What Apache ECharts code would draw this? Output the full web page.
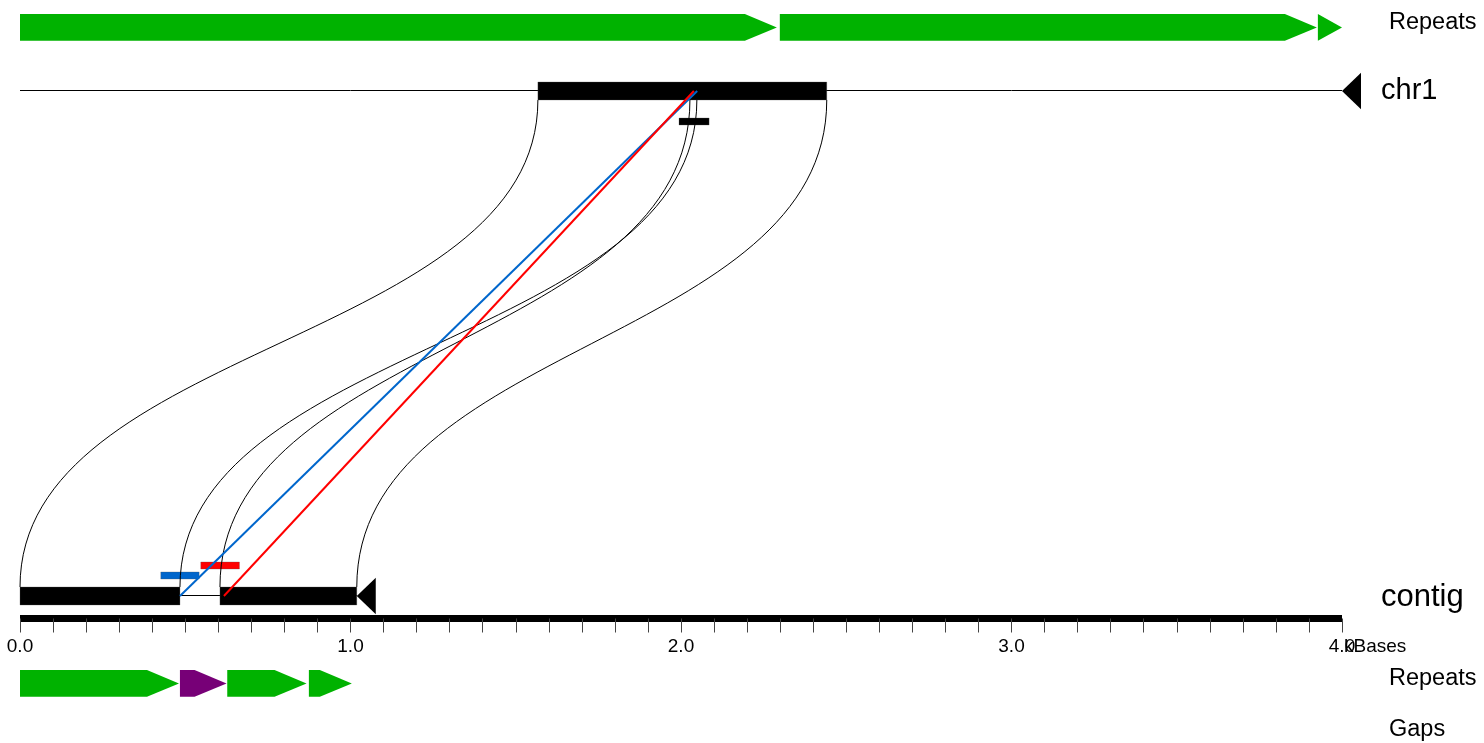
<!DOCTYPE html>
<html><head><meta charset="utf-8">
<script src="https://cdn.jsdelivr.net/npm/echarts@6/dist/echarts.min.js"></script>
<style>html,body{margin:0;padding:0;background:#fff}#c{width:1484px;height:743px}</style>
</head><body><div id="c"></div>
<script>
// ---- data (positions in kBases) ----
const tickLabels = ['0.0', '1.0', '2.0', '3.0', '4.0'];
const trackNames = ['Repeats', 'chr1', 'contig', 'Repeats', 'Gaps'];
const chr1Length = 4.0;
const contigLength = 1.019;
const chr1BlockStarts = [1.567];
const chr1BlockEnds = [2.441];
const contigBlockStarts = [0.0, 0.605];
const contigBlockEnds = [0.484, 1.019];
const topRepeatStarts = [0.0, 2.299, 3.927];
const topRepeatEnds = [2.290, 3.924, 4.0];
const topRepeatKinds = [0, 0, 0];
const bottomRepeatStarts = [0.0, 0.484, 0.627, 0.874];
const bottomRepeatEnds = [0.481, 0.625, 0.867, 1.004];
const bottomRepeatKinds = [0, 1, 0, 0];
const linkChr1 = [1.567, 2.048, 2.027, 2.441];
const linkContig = [0.0, 0.484, 0.605, 1.019];
const hitChr1 = [2.049, 2.039];
const hitContig = [0.484, 0.617];
const hitKinds = [0, 1];
const chr1FeatStarts = [1.994];
const chr1FeatEnds = [2.085];
const contigFeatStarts = [0.426, 0.547];
const contigFeatEnds = [0.542, 0.664];
const contigFeatKinds = [0, 1];

// ---- layout / style ----
const FONT = 'Liberation Sans, Arial, Helvetica, sans-serif';
const repeatColors = ['#00B200', '#770077'];
const hitColors = ['#0066CC', '#FF0000'];
const ROW = { topRep: 27.4, chr1: 91, chr1Feat: 121.5, contig: 596, contigFeat: [575.5, 565.5], botRep: 683.4 };
const BLOCK_HALF = 9, REP_HALF = 13.4, FEAT_HALF = 3.5, HEAD = 32, STRAND_W = 19, STRAND_HALF = 18.3;

function zipPairs(a, b) { return a.map((v, i) => [v, b[i]]); }

function repeatRender(rowY, kinds) {
  return function (params, api) {
    const s = api.coord([api.value(0), rowY]);
    const e = api.coord([api.value(1), rowY]);
    const head = Math.min(HEAD, e[0] - s[0]);
    const b = e[0] - head;
    const t = s[1] - REP_HALF, bt = s[1] + REP_HALF;
    return { type: 'polygon', shape: { points: [[s[0], t], [b, t], [e[0], s[1]], [b, bt], [s[0], bt]] },
      style: { fill: repeatColors[kinds[params.dataIndex]] } };
  };
}
function seqLineRender(rowY) {
  return function (params, api) {
    const s = api.coord([api.value(0), rowY]);
    const e = api.coord([api.value(1), rowY]);
    const ly = Math.round(s[1]) - 0.5;
    return { type: 'group', children: [
      { type: 'line', shape: { x1: s[0], y1: ly, x2: e[0], y2: ly }, style: { stroke: '#000', lineWidth: 1 } },
      { type: 'polygon', shape: { points: [[e[0], e[1]], [e[0] + STRAND_W, e[1] - STRAND_HALF], [e[0] + STRAND_W, e[1] + STRAND_HALF]] }, style: { fill: '#000' } }
    ] };
  };
}
function rectRender(rowYFn, half, colorFn) {
  return function (params, api) {
    const y = rowYFn(params.dataIndex);
    const s = api.coord([api.value(0), y]);
    const e = api.coord([api.value(1), y]);
    return { type: 'rect', shape: { x: s[0], y: s[1] - half, width: e[0] - s[0], height: half * 2 },
      style: { fill: colorFn(params.dataIndex), stroke: '#555', lineWidth: 0.3 } };
  };
}
function linkRender(params, api) {
  const top = api.coord([api.value(0), ROW.chr1])[0];
  const bot = api.coord([api.value(1), ROW.contig])[0];
  const y1 = ROW.chr1 + BLOCK_HALF, y2 = ROW.contig - BLOCK_HALF;
  const py1 = api.coord([0, y1])[1], py2 = api.coord([0, y2])[1];
  const mid = (py1 + py2) / 2;
  return { type: 'bezierCurve', shape: { x1: bot, y1: py2, cpx1: bot, cpy1: mid, cpx2: top, cpy2: mid, x2: top, y2: py1 },
    style: { stroke: '#000', lineWidth: 1, fill: null } };
}
function hitRender(params, api) {
  const a = api.coord([api.value(0), ROW.chr1]);
  const b = api.coord([api.value(1), ROW.contig]);
  return { type: 'line', shape: { x1: b[0], y1: b[1], x2: a[0], y2: a[1] },
    style: { stroke: hitColors[hitKinds[params.dataIndex]], lineWidth: 2 } };
}

const chart = echarts.init(document.getElementById('c'), null, { renderer: 'canvas' });
const base = { type: 'custom', coordinateSystem: 'cartesian2d', clip: false, silent: true, encode: { x: [0, 1] } };

chart.setOption({
  animation: false,
  backgroundColor: '#fff',
  grid: { left: 20, right: 142, top: 0, bottom: 124.5, containLabel: false, outerBoundsMode: 'none' },
  xAxis: {
    type: 'value', min: 0, max: 4, interval: 0.1, position: 'bottom',
    axisLine: { show: true, onZero: false, lineStyle: { color: '#000', width: 7, cap: 'butt' } },
    axisTick: { show: true, length: 14, lineStyle: { color: '#444', width: 1 } },
    axisLabel: { margin: 19, fontSize: 19, color: '#000', fontFamily: FONT, showMinLabel: true, showMaxLabel: true,
      formatter: function (v) { const r = Math.round(v); return Math.abs(v - r) < 1e-6 ? tickLabels[r] : ''; } },
    splitLine: { show: false }
  },
  yAxis: { type: 'value', min: 0, max: 618.5, inverse: true, show: false },
  series: [
    Object.assign({}, base, { name: 'topRepeats', data: zipPairs(topRepeatStarts, topRepeatEnds), renderItem: repeatRender(ROW.topRep, topRepeatKinds), z: 2 }),
    Object.assign({}, base, { name: 'bottomRepeats', data: zipPairs(bottomRepeatStarts, bottomRepeatEnds), renderItem: repeatRender(ROW.botRep, bottomRepeatKinds), z: 2 }),
    Object.assign({}, base, { name: 'chr1', data: [[0, chr1Length]], renderItem: seqLineRender(ROW.chr1), z: 2 }),
    Object.assign({}, base, { name: 'contig', data: [[0, contigLength]], renderItem: seqLineRender(ROW.contig), z: 2 }),
    Object.assign({}, base, { name: 'chr1Blocks', data: zipPairs(chr1BlockStarts, chr1BlockEnds), renderItem: rectRender(() => ROW.chr1, BLOCK_HALF, () => '#000'), z: 3 }),
    Object.assign({}, base, { name: 'contigBlocks', data: zipPairs(contigBlockStarts, contigBlockEnds), renderItem: rectRender(() => ROW.contig, BLOCK_HALF, () => '#000'), z: 3 }),
    Object.assign({}, base, { name: 'chr1Feat', data: zipPairs(chr1FeatStarts, chr1FeatEnds), renderItem: rectRender(() => ROW.chr1Feat, FEAT_HALF, () => '#000'), z: 3 }),
    Object.assign({}, base, { name: 'contigFeat', data: zipPairs(contigFeatStarts, contigFeatEnds), renderItem: rectRender(i => ROW.contigFeat[contigFeatKinds[i]], FEAT_HALF, i => hitColors[contigFeatKinds[i]]), z: 3 }),
    Object.assign({}, base, { name: 'links', data: zipPairs(linkChr1, linkContig), renderItem: linkRender, z: 4 }),
    Object.assign({}, base, { name: 'hits', data: zipPairs(hitChr1, hitContig), renderItem: hitRender, z: 5 })
  ],
  graphic: [
    { type: 'text', x: 1389, y: 23, style: { text: trackNames[0], fontSize: 23.5, fontFamily: FONT, fill: '#000', verticalAlign: 'middle' } },
    { type: 'text', x: 1381, y: 91, style: { text: trackNames[1], fontSize: 29, fontFamily: FONT, fill: '#000', verticalAlign: 'middle' } },
    { type: 'text', x: 1381, y: 597, style: { text: trackNames[2], fontSize: 31, fontFamily: FONT, fill: '#000', verticalAlign: 'middle' } },
    { type: 'text', x: 1389, y: 679, style: { text: trackNames[3], fontSize: 23.5, fontFamily: FONT, fill: '#000', verticalAlign: 'middle' } },
    { type: 'text', x: 1389, y: 730, style: { text: trackNames[4], fontSize: 23.5, fontFamily: FONT, fill: '#000', verticalAlign: 'middle' } },
    { type: 'text', x: 1344, y: 647, style: { text: 'kBases', fontSize: 19, fontFamily: FONT, fill: '#000', verticalAlign: 'middle' } }
  ]
});
</script>
</body></html>
